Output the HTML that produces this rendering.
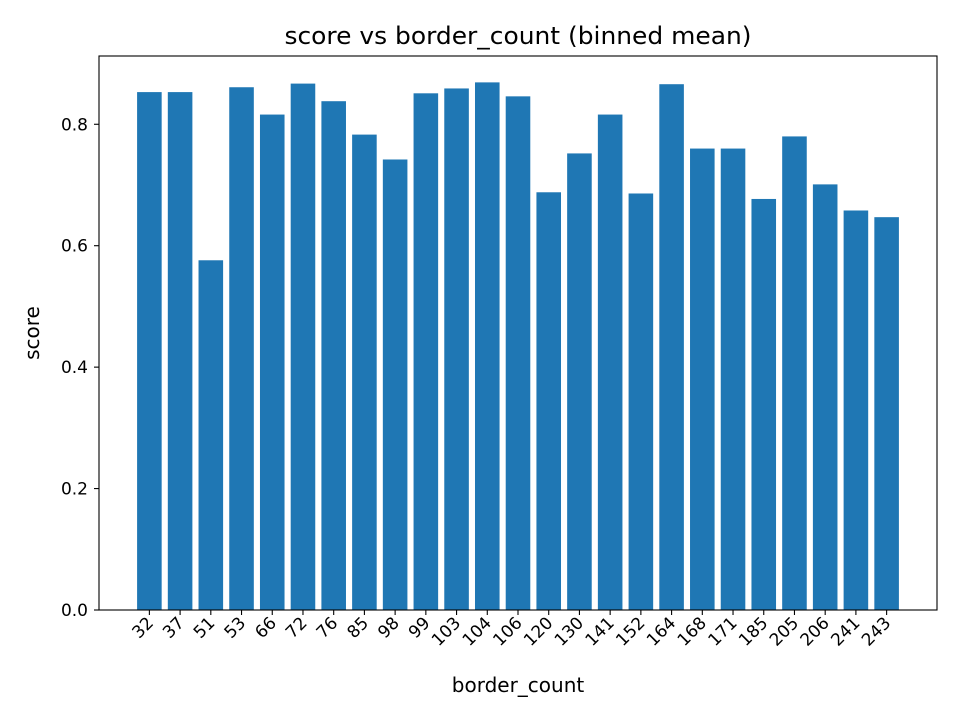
<!DOCTYPE html>
<html><head><meta charset="utf-8"><style>
html,body{margin:0;padding:0;background:#fff;}
svg text{font-family:"DejaVu Sans","Liberation Sans",sans-serif;fill:#000;}
</style></head><body>
<svg id="chart" width="960" height="720" xmlns="http://www.w3.org/2000/svg">
<rect width="960" height="720" fill="#fff"/>
<text x="518" y="44" font-size="24" text-anchor="middle" textLength="467" lengthAdjust="spacingAndGlyphs">score vs border_count (binned mean)</text>
<g id="bars"></g>
<g id="yticks"></g>
<g id="xticks"></g>
<rect x="99" y="56" width="838" height="554" fill="none" stroke="#000" stroke-width="1.1"/>
<text x="518" y="692" font-size="20" text-anchor="middle">border_count</text>
<text transform="translate(39,333) rotate(-90)" font-size="20" text-anchor="middle">score</text>
</svg>
<script>
const categories = ["32","37","51","53","66","72","76","85","98","99","103","104","106","120","130","141","152","164","168","171","185","205","206","241","243"];
const scores = [0.853,0.853,0.576,0.861,0.816,0.867,0.838,0.783,0.742,0.851,0.859,0.869,0.846,0.688,0.752,0.816,0.686,0.866,0.760,0.760,0.677,0.780,0.701,0.658,0.647];
const yTickValues = [0,0.2,0.4,0.6,0.8];
const yTickLabels = ["0.0","0.2","0.4","0.6","0.8"];

const NS = "http://www.w3.org/2000/svg";
const plotLeft = 99, plotRight = 937, plotTop = 56, plotBottom = 610;
const n = categories.length;
const xmin = -0.4 - 0.05 * (n - 0.2), xmax = n - 1 + 0.4 + 0.05 * (n - 0.2);
function xScale(i) { return plotLeft + (i - xmin) / (xmax - xmin) * (plotRight - plotLeft); }
const ymax = Math.max(...scores) * 1.05;
function yScale(v) { return plotBottom - v / ymax * (plotBottom - plotTop); }
const bw = 0.8 * (xScale(1) - xScale(0));

const bars = document.getElementById('bars');
scores.forEach((v, i) => {
  const r = document.createElementNS(NS, 'rect');
  r.setAttribute('x', xScale(i) - bw / 2);
  r.setAttribute('y', yScale(v));
  r.setAttribute('width', bw);
  r.setAttribute('height', yScale(0) - yScale(v));
  r.setAttribute('fill', '#1f77b4');
  
  
  bars.appendChild(r);
});

const yt = document.getElementById('yticks');
yTickValues.forEach((v, i) => {
  const y = yScale(v);
  const l = document.createElementNS(NS, 'line');
  l.setAttribute('x1', plotLeft - 5); l.setAttribute('x2', plotLeft);
  l.setAttribute('y1', y); l.setAttribute('y2', y);
  l.setAttribute('stroke', '#000'); l.setAttribute('stroke-width', '1.1');
  
  
  yt.appendChild(l);
  const t = document.createElementNS(NS, 'text');
  t.setAttribute('x', plotLeft - 11); t.setAttribute('y', y + 6);
  t.setAttribute('font-size', '17'); t.setAttribute('text-anchor', 'end');
  t.textContent = yTickLabels[i];
  
  
  yt.appendChild(t);
});

const xt = document.getElementById('xticks');
categories.forEach((c, i) => {
  const x = xScale(i);
  const l = document.createElementNS(NS, 'line');
  l.setAttribute('x1', x); l.setAttribute('x2', x);
  l.setAttribute('y1', plotBottom); l.setAttribute('y2', plotBottom + 5);
  l.setAttribute('stroke', '#000'); l.setAttribute('stroke-width', '1.1');
  
  
  xt.appendChild(l);
  const t = document.createElementNS(NS, 'text');
  t.setAttribute('transform', 'translate(' + (x + 5) + ',' + (plotBottom + 14) + ') rotate(-45)');
  t.setAttribute('font-size', '17'); t.setAttribute('text-anchor', 'end');
  t.textContent = c;
  
  
  xt.appendChild(t);
});
</script>
</body></html>
